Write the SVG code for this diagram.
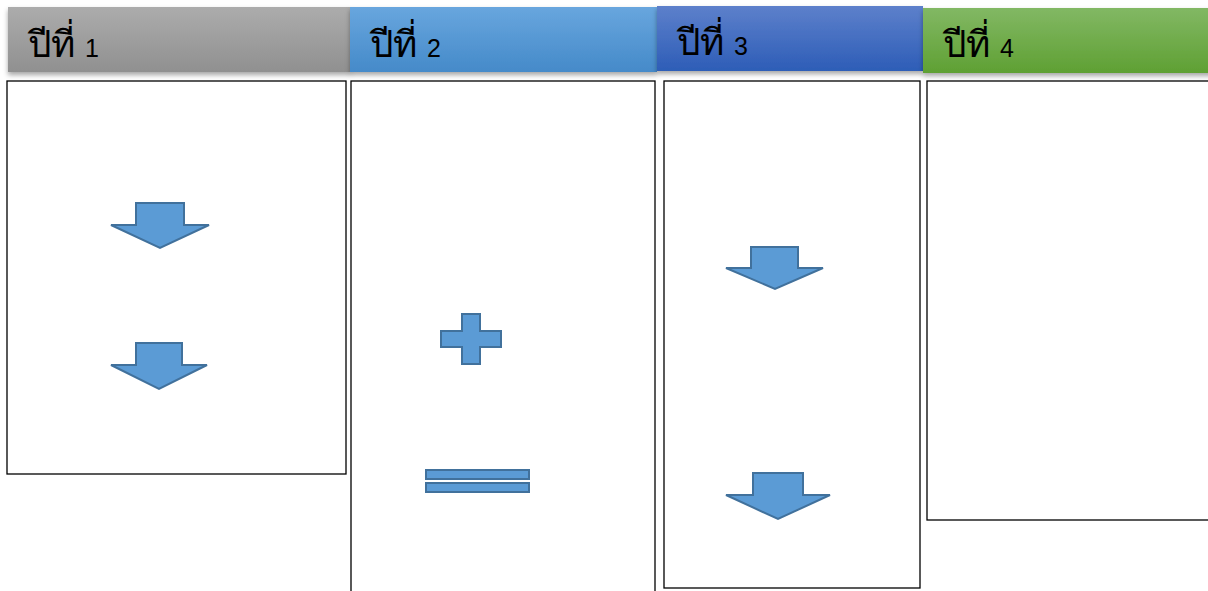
<svg xmlns="http://www.w3.org/2000/svg" width="1208" height="591" viewBox="0 0 1208 591">
<style>
.box{fill:#fff;stroke:#000;stroke-width:1.3}
.sh{fill:#5B9BD5;stroke:#41719C;stroke-width:2}
.lbl{font-family:"Liberation Sans","Noto Sans",sans-serif;font-size:25px;fill:#000}
.th{font-size:37px}
</style>
<defs>
<linearGradient id="g1" x1="0" y1="0" x2="0" y2="1"><stop offset="0" stop-color="#acacac"/><stop offset="1" stop-color="#909090"/></linearGradient>
<linearGradient id="g2" x1="0" y1="0" x2="0" y2="1"><stop offset="0" stop-color="#68a6de"/><stop offset="1" stop-color="#458ac9"/></linearGradient>
<linearGradient id="g3" x1="0" y1="0" x2="0" y2="1"><stop offset="0" stop-color="#5d80cb"/><stop offset="1" stop-color="#2d5db7"/></linearGradient>
<linearGradient id="g4" x1="0" y1="0" x2="0" y2="1"><stop offset="0" stop-color="#82b864"/><stop offset="1" stop-color="#5fa033"/></linearGradient>
<filter id="ds" x="-5%" y="-20%" width="110%" height="150%"><feDropShadow dx="0" dy="3" stdDeviation="2.5" flood-color="#000" flood-opacity="0.35"/></filter>
</defs>
<rect width="1208" height="591" fill="#fff"/>
<g id="year1">
<rect x="8" y="7" width="343" height="65" fill="url(#g1)" filter="url(#ds)"/>
<text class="lbl" x="28" y="57"><tspan class="th">ปีที่</tspan><tspan dx="3"> 1</tspan></text>
<rect class="box" x="7" y="81" width="339" height="393"/>
<path class="sh" d="M136,203H184V225H209L160,248L111,225H136Z"/>
<path class="sh" d="M136,343H182V365H207L159,389L111,365H136Z"/>
</g>
<g id="year2">
<rect x="350" y="7" width="307" height="65" fill="url(#g2)" filter="url(#ds)"/>
<text class="lbl" x="370" y="57"><tspan class="th">ปีที่</tspan><tspan dx="3"> 2</tspan></text>
<rect class="box" x="351" y="81" width="304" height="515"/>
<path class="sh" d="M462,314H480V331H501V347H480V364H462V347H441V331H462Z"/>
<rect class="sh" x="426" y="470" width="103" height="9"/>
<rect class="sh" x="426" y="483" width="103" height="9"/>
</g>
<g id="year3">
<rect x="657" y="6" width="266" height="65" fill="url(#g3)" filter="url(#ds)"/>
<text class="lbl" x="677" y="55"><tspan class="th">ปีที่</tspan><tspan dx="3"> 3</tspan></text>
<rect class="box" x="664" y="81" width="256" height="507"/>
<path class="sh" d="M751,247H798V268H823L775,289L726,268H751Z"/>
<path class="sh" d="M753,473H803V495H830L778,519L726,495H753Z"/>
</g>
<g id="year4">
<rect x="923" y="8" width="290" height="65" fill="url(#g4)" filter="url(#ds)"/>
<text class="lbl" x="943" y="57"><tspan class="th">ปีที่</tspan><tspan dx="3"> 4</tspan></text>
<rect class="box" x="927" y="81" width="290" height="439"/>
</g>
<g id="connectors"></g>
</svg>
